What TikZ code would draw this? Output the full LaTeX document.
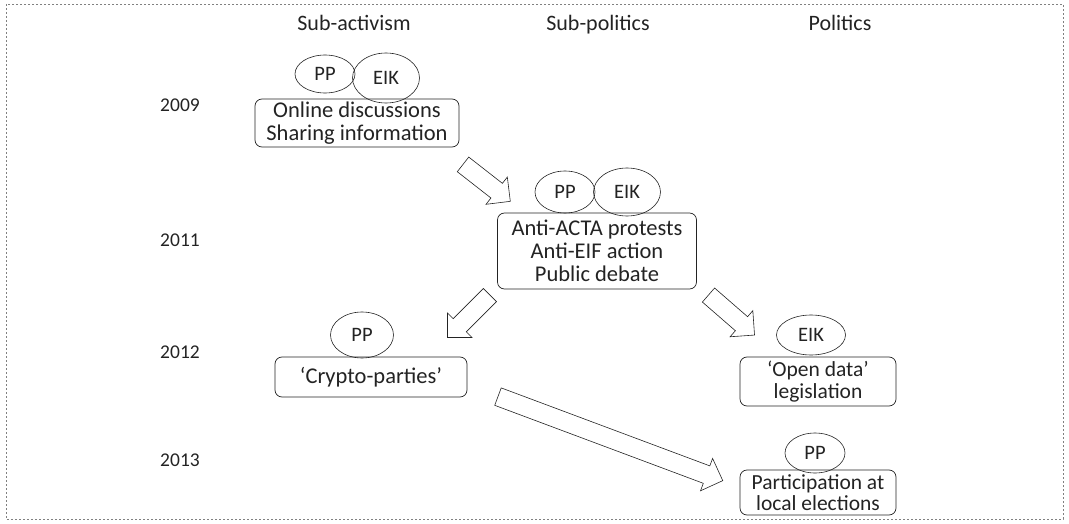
\documentclass[tikz,border=0pt]{standalone}
\usepackage{fontspec}
\setmainfont{Carlito}
\usetikzlibrary{positioning,shapes.geometric,shapes.arrows}
\definecolor{inkgray}{RGB}{35,35,35}

\begin{document}
\begin{tikzpicture}[
  x=1pt, y=-1pt,
  font=\fontsize{22}{25}\selectfont,
  box/.style={draw=inkgray, rounded corners=7pt, align=center, inner sep=0pt, line width=0.7pt, text=inkgray, font=\fontsize{22.5}{23}\selectfont},
  pbox/.style={box, font=\fontsize{21.5}{21.5}\selectfont},
  party/.style={draw=inkgray, ellipse, inner sep=0pt, line width=0.6pt, text=inkgray, font=\fontsize{20.5}{22}\selectfont},
  head/.style={text=inkgray, anchor=base},
  yr/.style={text=inkgray, font=\fontsize{19.5}{22}\selectfont},
  bigarr/.style={draw=inkgray, single arrow, single arrow tip angle=90, single arrow head extend=8pt, inner sep=0pt, inner ysep=9pt, line width=0.6pt},
]
% ---- frame ----
\useasboundingbox (0,0) rectangle (1069,524);
\draw[gray, dash pattern=on 2pt off 2pt, line width=0.6pt] (6,4) rectangle (1063,519);
% ---- column heads ----
\node[head] (hsa) at (354,31) {Sub-activism};
\node[head] (hsp) at (598,31) {Sub-politics};
\node[head] (hpo) at (840,31) {Politics};
% ---- years ----
\node[yr] (y09) at (180,105) {2009};
\node[yr] (y11) at (180,240) {2011};
\node[yr] (y12) at (180,352) {2012};
\node[yr] (y13) at (180,460) {2013};
% ---- 2009 ----
\node[box, minimum width=204pt, minimum height=48pt] (online) at (357,123) {Online discussions\\Sharing information};
\node[party, minimum width=60pt, minimum height=38pt] (pp1) at (325,74) {PP};
\node[party, minimum width=67pt, minimum height=50pt] (eik1) at (386,78) {EIK};
% ---- 2011 ----
\node[box, minimum width=199pt, minimum height=76pt] (acta) at (597,251) {Anti-ACTA protests\\Anti-EIF action\\Public debate};
\node[party, minimum width=60pt, minimum height=42pt] (pp2) at (565,192) {PP};
\node[party, minimum width=67pt, minimum height=48pt] (eik2) at (627,192) {EIK};
% ---- 2012 ----
\node[box, minimum width=192pt, minimum height=40pt] (crypto) at (371,377) {‘Crypto-parties’};
\node[party, minimum width=63pt, minimum height=46pt] (pp3) at (362,335) {PP};
\node[pbox, minimum width=156pt, minimum height=49pt] (odata) at (818,381.5) {‘Open data’\\legislation};
\node[party, minimum width=69pt, minimum height=40pt] (eik3) at (811,335) {EIK};
% ---- 2013 ----
\node[pbox, minimum width=156pt, minimum height=45pt] (elect) at (818,492.5) {Participation at\\local elections};
\node[party, minimum width=60pt, minimum height=40pt] (pp4) at (815,453) {PP};
% ---- block arrows ----
\node[bigarr, minimum height=60pt, rotate=-38] (a1) at (483,180) {};
\node[bigarr, minimum height=60pt, rotate=-135] (a2) at (472,313) {};
\node[bigarr, minimum height=61pt, rotate=-41] (a3) at (728,312) {};
\node[bigarr, minimum height=240pt, rotate=-20.5] (a4) at (606,437) {};
\end{tikzpicture}
\end{document}
